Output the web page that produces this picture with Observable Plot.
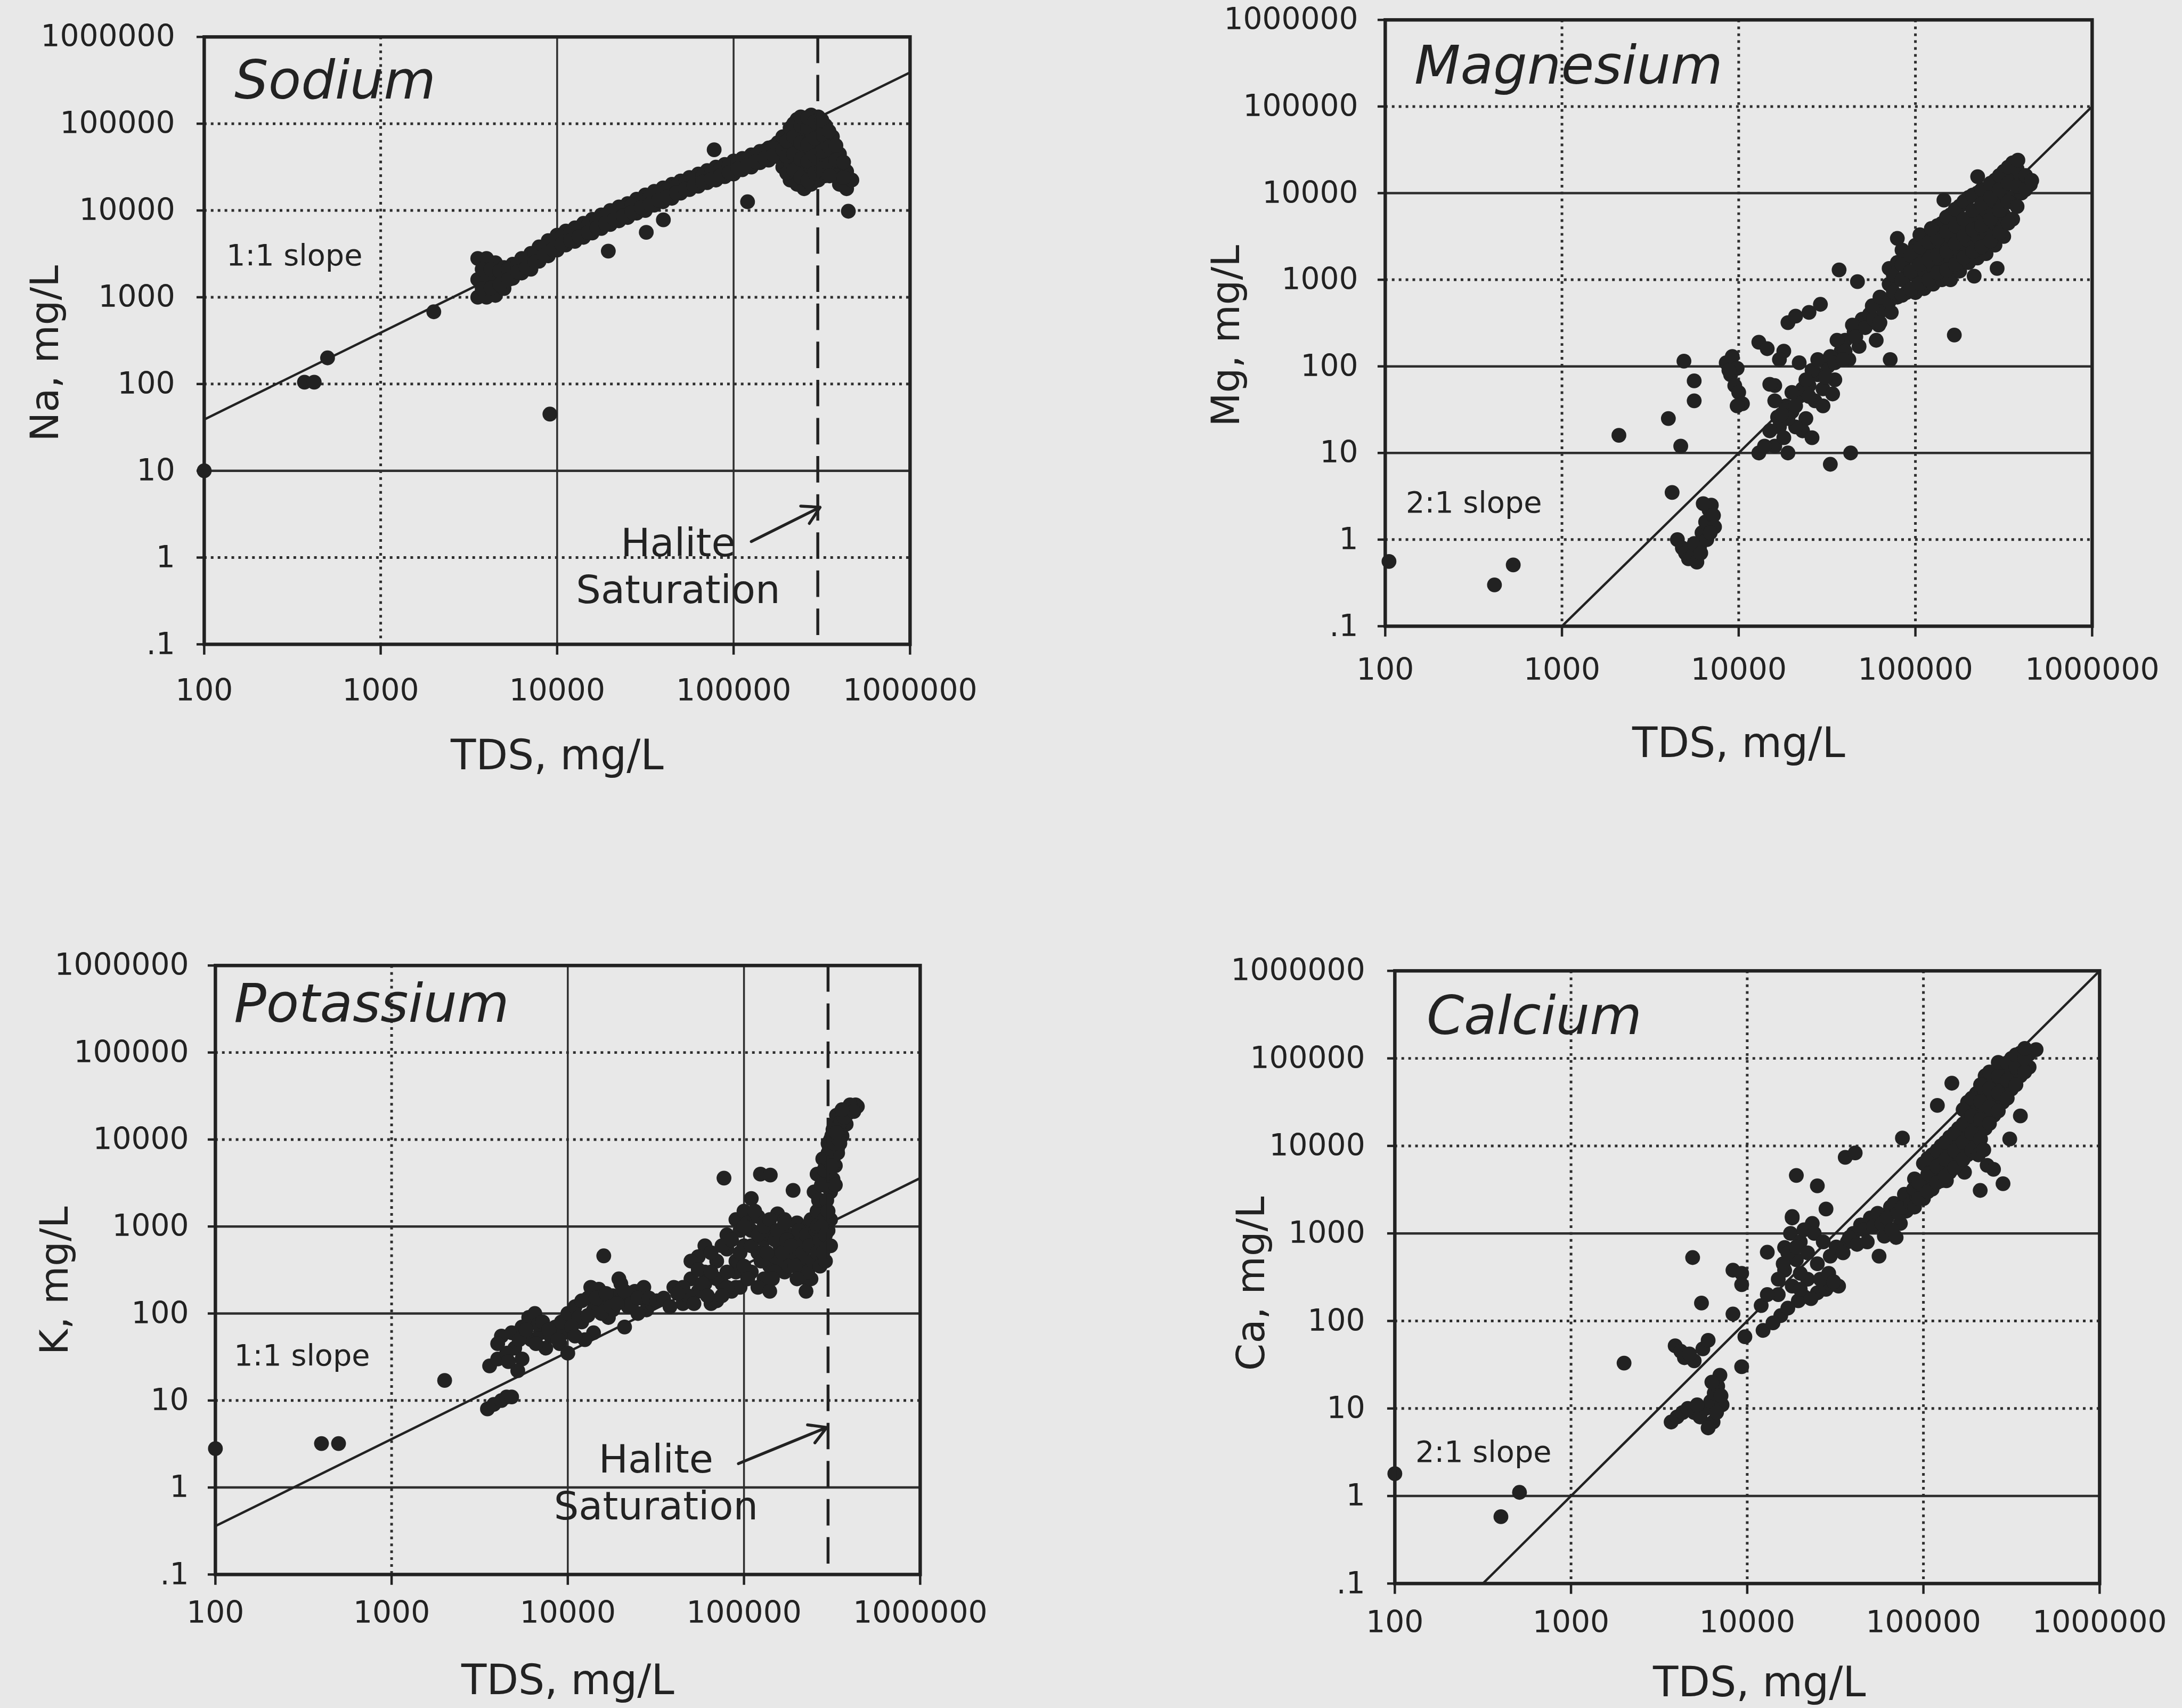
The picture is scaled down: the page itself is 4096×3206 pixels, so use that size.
<!DOCTYPE html>
<html><head><meta charset="utf-8">
<script src="https://cdn.jsdelivr.net/npm/d3@7"></script>
<script src="https://cdn.jsdelivr.net/npm/@observablehq/plot@0.6"></script>
<style>
html,body{margin:0;padding:0;background:#e8e8e8;overflow:hidden;}
#page{position:relative;width:4096px;height:3206px;overflow:hidden;background:#e8e8e8;}
#page svg{position:absolute;overflow:visible;}
</style></head><body><div id="page"></div>
<script>
// ---------- data ----------
const xTicks = [100, 1000, 10000, 100000, 1000000];
const xTickLabels = ["100", "1000", "10000", "100000", "1000000"];
const yTicks = [0.1, 1, 10, 100, 1000, 10000, 100000, 1000000];
const yTickLabels = [".1", "1", "10", "100", "1000", "10000", "100000", "1000000"];
const gridX = [1000, 10000, 100000];
const gridY = [1, 10, 100, 1000, 10000, 100000];
const haliteTDS = 300000;
const xTitle = "TDS, mg/L";

// [TDS mg/L, concentration mg/L]
const sodium = [
 [100,10],[370,105],[420,105],[500,200],[2000,680],[9100,45],
 [3550,2800],[3550,1600],[3550,1000],[3980,2800],[3980,1600],[3980,1000],
 [4470,2500],[4470,1600],[4470,1050],[5000,2200],[5000,1800],[5000,1260],
 [5600,2400],[5600,2000],[5600,1650],[6300,2800],[6300,2300],[6300,1900],
 [7100,3200],[7100,2600],[7100,2100],[7900,3800],[7900,3200],[7900,2600],
 [8900,4500],[8900,3700],[8900,3000],[10000,5200],[10000,4300],[10000,3500],
 [11200,5800],[11200,4800],[11200,4000],[12600,6300],[12600,5200],[12600,4400],
 [14100,7100],[14100,5900],[14100,4900],[15800,7900],[15800,6600],[15800,5500],
 [17800,8900],[17800,7400],[17800,6200],[20000,10000],[20000,8300],[20000,6900],
 [22400,11000],[22400,9100],[22400,7600],[25100,12000],[25100,10000],[25100,8300],
 [28200,13500],[28200,11200],[28200,9300],[31600,15100],[31600,12600],[31600,10000],
 [35500,16600],[35500,13800],[35500,11500],[39800,18200],[39800,15100],[39800,12600],
 [44700,20000],[44700,16600],[44700,13800],[50100,21900],[50100,18600],[50100,15800],
 [56200,24000],[56200,20400],[56200,17400],[63100,26300],[63100,22400],[63100,19000],
 [70800,28800],[70800,24500],[70800,20900],[79400,31600],[79400,26300],[79400,22400],
 [89100,33900],[89100,28800],[89100,24500],[100000,37200],[100000,31600],[100000,26300],
 [112000,39800],[112000,34700],[112000,29500],[126000,43700],[126000,38000],[126000,31600],
 [141000,47900],[141000,41700],[141000,35500],[158000,52500],[158000,45700],[158000,38000],
 [178000,60300],[178000,50100],[178000,41700],
 [3760,2100],[3760,1250],[4220,2100],[4220,1280],[4730,2000],[4730,1400],[5300,2100],[5300,1600],
 [5960,2400],[5960,1950],[6680,2750],[6680,2200],[7500,3200],[7500,2550],[8410,3800],[8410,3050],
 [9440,4400],[9440,3550],[10600,5000],[10600,4100],[11900,5500],[11900,4500],[13300,6100],[13300,5000],
 [15000,6800],[15000,5600],[16800,7600],[16800,6300],[18800,8600],[18800,7100],[21100,9500],[21100,7900],
 [23700,10500],[23700,8700],[26600,11600],[26600,9600],[29900,13000],[29900,10800],[33500,14400],[33500,11800],
 [37600,15800],[37600,13100],[42200,17300],[42200,14400],[47300,19000],[47300,16000],[53100,20800],[53100,17700],
 [59600,22800],[59600,19400],[66800,25000],[66800,21300],[75000,27400],[75000,23000],[84100,29900],[84100,25200],
 [94400,32700],[94400,27300],[106000,35800],[106000,30200],[119000,39000],[119000,33000],[133000,42800],[133000,36500],
 [150000,47000],[150000,40000],[168000,52000],[168000,43500],
 [190000,31600],[190000,50100],[190000,70800],
 [209000,22400],[209000,35500],[209000,56200],[209000,89100],
 [229000,20000],[229000,31600],[229000,50100],[229000,79400],[229000,112000],
 [251000,17800],[251000,28200],[251000,44700],[251000,70800],[251000,112000],
 [275000,20000],[275000,31600],[275000,50100],[275000,79400],[275000,126000],
 [302000,22400],[302000,35500],[302000,56200],[302000,89100],[302000,120000],
 [331000,25100],[331000,39800],[331000,63100],[331000,95500],
 [363000,28200],[363000,44700],[363000,70800],
 [398000,20000],[398000,31600],[398000,44700],
 [437000,17800],[437000,28200],[468000,22400],[447000,9800],
 [200000,27000],[200000,42000],[200000,63000],[219000,29000],[219000,45000],[219000,71000],[219000,100000],
 [240000,24000],[240000,39000],[240000,60000],[240000,95000],[240000,120000],[263000,22000],[263000,37000],
 [263000,58000],[263000,90000],[263000,118000],[288000,27000],[288000,43000],[288000,68000],[288000,105000],
 [316000,30000],[316000,48000],[316000,75000],[316000,110000],[347000,34000],[347000,54000],[347000,82000],
 [380000,25000],[380000,38000],[380000,56000],[420000,24000],[420000,36000],[350000,25000],
 [77600,50100],[120000,12600],[19500,3400],[32000,5600],[40000,7800]
];

const magnesium = [
 [105,0.56],[415,0.3],[530,0.51],[2100,16],[4000,25],[4700,12],[4200,3.5],[4900,115],[5600,68],[5600,40],
 [4500,1.0],[4800,0.8],[5000,0.7],[5200,0.6],[5500,0.65],[5800,0.55],[6000,0.8],[6200,1.2],[6500,1.6],
 [6800,2.2],[7000,2.5],[7200,1.9],[6300,2.6],[5600,0.9],[6100,0.7],[6600,1.0],[7300,1.4],[6900,1.2],
 [8500,110],[9000,80],[9500,60],[10000,50],[10500,37],[9200,130],[9800,95],[8800,90],[9800,35],
 [13000,190],[16000,60],[18000,150],[19000,320],[21000,380],[25000,420],[29000,520],[16600,26],
 [13000,10],[16000,12],[19000,10],[20000,30],[22000,45],[24000,25],[25000,60],[27000,40],[28000,80],
 [30000,55],[32000,100],[35000,70],[38000,150],[40000,200],[45000,250],[50000,350],[55000,400],
 [23000,18],[26000,15],[21000,20],[30000,35],[42000,120],[48000,170],[17000,20],[18500,35],
 [14000,12],[15000,18],[22000,110],[14500,160],[15000,62],[17000,120],[34000,48],
 [19000,25],[21000,35],[23000,55],[25000,45],[26000,90],[28000,120],[31000,75],[33000,130],[35000,110],
 [36000,200],[40000,150],[44000,300],[46000,220],[52000,280],[58000,350],[60000,200],[66000,450],
 [24000,70],[20000,50],[18000,15],[17500,28],[16000,40],
 [33000,7.4],[43000,10],[39000,120],[37000,1300],[47000,950],[72000,120],[62000,300],[57000,500],[73000,420],
 [63000,320],[63000,630],[71000,560],[71000,890],[71000,1350],[79000,630],[79000,1000],[79000,1580],
 [89000,710],[89000,1120],[89000,1780],[100000,710],[100000,1120],[100000,1780],[100000,2500],
 [112000,790],[112000,1260],[112000,2000],[112000,3160],[126000,890],[126000,1410],[126000,2240],[126000,3550],
 [141000,1000],[141000,1580],[141000,2510],[141000,4470],[158000,1000],[158000,1780],[158000,3160],[158000,5620],
 [178000,1260],[178000,2240],[178000,3980],[178000,7080],[200000,1580],[200000,2820],[200000,5010],[200000,8910],
 [224000,1780],[224000,3160],[224000,5620],[224000,10000],[251000,2000],[251000,3550],[251000,6310],[251000,11200],
 [282000,2510],[282000,4470],[282000,7940],[282000,14100],[316000,3160],[316000,5620],[316000,10000],[316000,17800],
 [355000,5010],[355000,8910],[355000,15800],[355000,22400],[398000,10000],[398000,15800],[447000,12600],
 [75000,720],[75000,1130],[84000,660],[84000,1000],[84000,1500],[84000,2200],[94000,780],[94000,1250],[94000,1900],
 [106000,900],[106000,1500],[106000,2400],[106000,3300],[119000,1000],[119000,1700],[119000,2700],
 [133000,1200],[133000,1900],[133000,3000],[133000,4200],[150000,1300],[150000,2100],[150000,3600],[150000,5300],
 [168000,1500],[168000,2600],[168000,4200],[168000,6500],[188000,1800],[188000,3200],[188000,5000],[188000,8000],
 [211000,2100],[211000,3800],[211000,6300],[211000,9500],[237000,2400],[237000,4200],[237000,7500],[237000,11000],
 [266000,2800],[266000,5000],[266000,8900],[266000,13000],[299000,3500],[299000,6300],[299000,11000],[299000,16000],
 [335000,4500],[335000,7900],[335000,13000],[335000,20000],[376000,7000],[376000,12000],[376000,19000],
 [420000,11000],[420000,16000],
 [79000,3000],[123000,3900],[145000,8300],[225000,15500],[166000,230],[215000,1100],[290000,1350],
 [380000,24000],[455000,14000]
];

const potassium = [
 [100,2.8],[400,3.2],[500,3.2],[2000,17],
 [3500,8],[3800,9],[4200,10],[4500,11],[4800,11],
 [3600,25],[4000,30],[4200,55],[4800,60],[5000,40],[5500,70],[6000,90],[6200,50],[7000,60],[7500,40],
 [8000,55],[9000,45],[10000,35],[5500,30],[6500,100],[4500,35],[6800,75],[5200,22],[8500,70],[9500,60],
 [4000,45],[4600,28],[5300,50],[5800,65],[6600,45],[7200,80],[7800,65],[8800,50],[9200,80],
 [16000,460],
 [10000,100],[11000,120],[12000,80],[13000,150],[14000,110],[15000,190],[16000,130],[17000,90],[18000,160],
 [20000,140],[22000,120],[24000,180],[26000,150],[28000,110],[30000,130],[14000,60],[12500,50],[20000,220],
 [21000,70],[25000,100],[19500,250],[11500,90],[13500,200],[18000,110],[23000,160],[27000,200],
 [10500,70],[11000,55],[12000,140],[13000,95],[14500,150],[15500,100],[16500,170],[17500,120],[19000,130],
 [21000,180],[23000,130],[25000,150],[29000,150],[32000,140],
 [35000,150],[40000,200],[45000,130],[50000,250],[55000,180],[60000,300],[65000,130],[70000,400],[75000,220],
 [80000,550],[90000,300],[60000,600],[55000,450],[38000,120],[48000,160],[70000,140],[85000,180],[95000,200],
 [77000,3600],[124000,4000],[141000,3900],[110000,2100],[155000,1400],[190000,2600],[170000,1200],
 [218000,260],[225000,180],
 [80000,800],[90000,1200],[100000,1500],[100000,600],[110000,900],[120000,500],[130000,700],[140000,350],
 [150000,450],[160000,600],[170000,300],[180000,800],[200000,500],[220000,400],[240000,250],[250000,600],
 [200000,1100],[230000,1000],[260000,800],[280000,700],[90000,400],[110000,300],[130000,250],[95000,900],
 [105000,1100],[120000,1300],[140000,800],[160000,400],[190000,450],[210000,700],[150000,300],[180000,350],
 [230000,300],[250000,400],
 [50000,400],[55000,320],[60000,220],[65000,500],[70000,250],[75000,600],[80000,300],[85000,700],[90000,200],
 [95000,500],[100000,350],[100000,1000],[105000,250],[110000,600],[115000,1500],[120000,800],[125000,400],
 [130000,1000],[135000,500],[140000,1200],[145000,250],[150000,700],[155000,900],[165000,500],[170000,1100],
 [175000,700],[185000,600],[195000,350],[205000,900],[215000,500],[225000,800],[235000,600],[245000,400],
 [255000,900],[265000,1200],[275000,900],[240000,1200],[200000,250],[120000,200],[140000,180],[80000,200],
 [75000,160],[65000,300],[58000,220],[45000,200],[42000,170],[52000,130],[62000,160],
 [260000,1000],[270000,2000],[280000,3000],[290000,5000],[300000,7000],[310000,10000],[320000,13000],
 [340000,17000],[360000,20000],[380000,15000],[360000,11000],[340000,8000],[320000,6000],[300000,4000],
 [280000,1500],[270000,700],[260000,500],[260000,1500],[250000,2500],[260000,4000],[280000,6000],
 [300000,9000],[320000,12000],[390000,20000],[410000,22000],[430000,25000],[440000,24000],[310000,2500],
 [320000,3500],[330000,5000],[340000,7000],[350000,9000],[350000,12000],[300000,900],[310000,1200],
 [270000,350],[290000,400],
 [265000,2000],[275000,3000],[285000,4500],[295000,6000],[305000,8000],[315000,11000],[325000,15000],
 [335000,19000],[345000,14000],[355000,16000],[325000,9000],[315000,5000],[305000,3000],[295000,2000],
 [285000,1200],[275000,1000],[290000,800],[345000,10000],[335000,12000],[370000,18000],[400000,25000],
 [420000,21000],[330000,3000],[300000,1500],[310000,600],[280000,500],[360000,22000]
];

const calcium = [
 [100,1.8],[400,0.58],[510,1.1],[2000,33],[4900,530],[5500,160],
 [3900,52],[4400,38],[5600,48],[4200,45],[5000,35],[6000,60],[4700,42],
 [3700,7],[4000,8],[4300,9],[4600,10],[5000,9],[5400,8],[5800,10],[6200,12],[6500,15],[6800,18],
 [7000,24],[7200,11],[6400,7],[6000,6],[6700,9],[7100,14],[6300,20],[5200,11],
 [8300,380],[9300,350],[9300,260],[8300,120],[9700,66],[9300,30],[13000,610],
 [12300,78],[15500,115],[19500,170],[25000,210],[33000,250],[18000,250],[16300,380],[16300,690],
 [17600,1000],[23400,1300],[14000,95],[17000,140],[21000,190],[28000,230],[30000,260],[22000,300],
 [19000,500],[20000,800],[21000,1100],[15000,200],[18000,1500],
 [12000,150],[13000,200],[15000,300],[16000,450],[17000,600],[19000,700],[20000,350],[22000,600],
 [24000,1000],[25000,450],[26000,300],[27000,800],[29000,350],[31000,280],[23000,180],[20000,230],
 [29600,550],[19000,4600],[25000,3500],[18000,1560],[28000,1900],[36000,7400],[41000,8300],
 [37000,800],[44000,1250],[56000,550],[60000,930],[74000,1300],[83000,2600],[89000,4200],[107000,6300],
 [135000,8700],[163000,13800],[135000,4000],[171000,5000],[205000,27000],[240000,36000],[295000,78000],
 [355000,115000],[40000,1000],[50000,1500],[65000,2000],[70000,900],[80000,1800],[95000,3000],
 [32000,700],[35000,600],[38000,900],[42000,750],[46000,1100],[48000,800],[52000,1200],[55000,1700],
 [58000,1300],[62000,1500],[66000,1100],[68000,2200],[72000,1700],[76000,2000],[78000,2800],[85000,2200],
 [88000,3200],[92000,2600],[98000,3600],
 [89000,2000],[89000,3200],[100000,2500],[100000,4000],[100000,6300],[112000,3200],[112000,5000],[112000,7900],
 [126000,4000],[126000,6300],[126000,10000],[141000,5000],[141000,7900],[141000,12600],
 [158000,6300],[158000,10000],[158000,15800],[178000,7900],[178000,12600],[178000,20000],[178000,31600],
 [200000,10000],[200000,15800],[200000,25100],[200000,39800],[224000,15800],[224000,25100],[224000,39800],[224000,63100],
 [251000,22400],[251000,35500],[251000,56200],[282000,31600],[282000,50100],[282000,79400],
 [316000,44700],[316000,70800],[316000,100000],[355000,63100],[355000,89100],[355000,112000],
 [398000,79400],[398000,112000],[436000,126000],
 [94000,2500],[94000,3800],[106000,3000],[106000,4800],[106000,7200],[119000,3800],[119000,5800],[119000,8800],
 [133000,4500],[133000,7000],[133000,11000],[150000,5600],[150000,8800],[150000,14000],
 [168000,7000],[168000,11000],[168000,17800],[168000,26000],[188000,8900],[188000,14000],[188000,22000],[188000,35000],
 [211000,12000],[211000,20000],[211000,32000],[211000,50000],[237000,18000],[237000,28000],[237000,45000],[237000,70000],
 [266000,25000],[266000,40000],[266000,63000],[266000,90000],[299000,35000],[299000,56000],[299000,89000],
 [335000,50000],[335000,79000],[335000,110000],[376000,70000],[376000,100000],[376000,130000],
 [76000,12300],[120000,29000],[145000,52000],[309000,12000],[283000,3700],[210000,3100],[355000,22000],
 [205000,7900],[230000,6000],[250000,5400],[220000,9000]
];

// reference slope lines (two end points each)
const sodiumLine = [[100, 39], [1000000, 390000]];
const magnesiumLine = [[1000, 0.1], [1000000, 100000]];
const potassiumLine = [[100, 0.36], [1000000, 3600]];
const calciumLine = [[316, 0.1], [1000000, 1000000]];

// halite arrows (data coordinates)
const sodiumArrow = {x1: 126000, y1: 1.53, x2: 309000, y2: 3.8};
const potassiumArrow = {x1: 93000, y1: 1.88, x2: 295000, y2: 4.9};

// ---------- layout / style ----------
const S = 0.994;
const INK = "#222222";
const GRID = "#2e2e2e";
const FONT = "DejaVu Sans, Liberation Sans, sans-serif";

const panels = [
 {title:"Sodium", yTitle:"Na, mg/L", data:sodium, line:sodiumLine, slope:"1:1 slope", arrow:sodiumArrow,
  L:385, R:1718, T:69, B:1216, titleDx:57, titleDy:116, slopeDx:42, slopeDy:431, haliteDx:895, haliteDy:[981,1069],
  yLabelGap:55, xLabelTop:66, xTitleDx:0, xTitleDy:236, yTitleDx:-300, yTitleDy:24, solidY:[10], solidX:[10000,100000]},
 {title:"Magnesium", yTitle:"Mg, mg/L", data:magnesium, line:magnesiumLine, slope:"2:1 slope",
  L:2616, R:3951, T:37, B:1182, titleDx:55, titleDy:120, slopeDx:39, slopeDy:930,
  yLabelGap:51, xLabelTop:61, xTitleDx:0, xTitleDy:247, yTitleDx:-300, yTitleDy:24, solidY:[10000,100,10], solidX:[]},
 {title:"Potassium", yTitle:"K, mg/L", data:potassium, line:potassiumLine, slope:"1:1 slope", arrow:potassiumArrow,
  L:406, R:1737, T:1823, B:2973, titleDx:35, titleDy:106, slopeDx:35, slopeDy:755, haliteDx:832, haliteDy:[957,1046],
  yLabelGap:50, xLabelTop:51, xTitleDx:0, xTitleDy:226, yTitleDx:-303, yTitleDy:20, solidY:[1000,100,1], solidX:[10000,100000]},
 {title:"Calcium", yTitle:"Ca, mg/L", data:calcium, line:calciumLine, slope:"2:1 slope",
  L:2634, R:3965, T:1833, B:2990, titleDx:60, titleDy:119, slopeDx:39, slopeDy:927,
  yLabelGap:56, xLabelTop:52, xTitleDx:23, xTitleDy:213, yTitleDx:-271, yTitleDy:12, solidY:[1000,1], solidX:[]}
];

const xLabelOf = new Map(xTicks.map((v, i) => [v, xTickLabels[i]]));
const yLabelOf = new Map(yTicks.map((v, i) => [v, yTickLabels[i]]));
const page = document.getElementById("page");

for (const c of panels) {
  const mL = 360, mR = 150, mT = 30, mB = 250;
  const pts = c.data.map(([x, y]) => ({x, y}));
  const ln = c.line.map(([x, y]) => ({x, y}));
  const dotted = {stroke: GRID, strokeWidth: 5 * S, strokeDasharray: `${5 * S},${8 * S}`};
  const marks = [
    Plot.ruleY(gridY.filter(v => !c.solidY.includes(v)), dotted),
    Plot.ruleY(gridY.filter(v => c.solidY.includes(v)), {stroke: GRID, strokeWidth: 4.5 * S}),
    Plot.ruleX(gridX.filter(v => !c.solidX.includes(v)), dotted),
    Plot.ruleX(gridX.filter(v => c.solidX.includes(v)), {stroke: GRID, strokeWidth: 3.5 * S}),
    Plot.line(ln, {x: "x", y: "y", stroke: INK, strokeWidth: 4.5 * S}),
    Plot.dot(pts, {x: "x", y: "y", r: 14 * S, fill: INK, stroke: "none"}),
    Plot.frame({stroke: INK, strokeWidth: 6.5 * S}),
    Plot.axisX(xTicks, {anchor: "bottom", tickSize: 20 * S, tickPadding: (c.xLabelTop - 20) * S, tickFormat: d => xLabelOf.get(d),
      fontSize: 57 * S, color: INK, strokeWidth: 4.5 * S, label: null}),
    Plot.axisY(yTicks, {anchor: "left", tickSize: 14 * S, tickPadding: (c.yLabelGap - 14) * S, tickFormat: d => yLabelOf.get(d),
      fontSize: 57 * S, color: INK, strokeWidth: 4.5 * S, label: null}),
    Plot.text([c.title], {text: d => d, frameAnchor: "top-left", dx: c.titleDx * S, dy: c.titleDy * S, textAnchor: "start",
      lineAnchor: "bottom", fontSize: 101 * S, fontStyle: "italic", fill: INK}),
    Plot.text([c.slope], {text: d => d, frameAnchor: "top-left", dx: c.slopeDx * S, dy: c.slopeDy * S, textAnchor: "start",
      lineAnchor: "bottom", fontSize: 56 * S, fill: INK}),
    Plot.text([xTitle], {text: d => d, frameAnchor: "bottom", dx: c.xTitleDx * S, dy: c.xTitleDy * S, textAnchor: "middle",
      lineAnchor: "bottom", fontSize: 78 * S, fill: INK}),
    Plot.text([c.yTitle], {text: d => d, frameAnchor: "left", rotate: -90, dx: c.yTitleDx * S, dy: c.yTitleDy * S,
      textAnchor: "middle", lineAnchor: "middle", fontSize: 74 * S, fill: INK})
  ];
  if (c.arrow) {
    marks.push(
      Plot.ruleX([haliteTDS], {stroke: INK, strokeWidth: 5.5 * S, strokeDasharray: `${50 * S},${22 * S}`}),
      Plot.arrow([c.arrow], {x1: "x1", y1: "y1", x2: "x2", y2: "y2", stroke: INK, strokeWidth: 5.5 * S, headLength: 10}),
      Plot.text(["Halite"], {text: d => d, frameAnchor: "top-left", dx: c.haliteDx * S, dy: c.haliteDy[0] * S,
        textAnchor: "middle", lineAnchor: "bottom", fontSize: 74 * S, fill: INK}),
      Plot.text(["Saturation"], {text: d => d, frameAnchor: "top-left", dx: c.haliteDx * S, dy: c.haliteDy[1] * S,
        textAnchor: "middle", lineAnchor: "bottom", fontSize: 74 * S, fill: INK})
    );
  }
  const chart = Plot.plot({
    width: (c.R - c.L + mL + mR) * S,
    height: (c.B - c.T + mT + mB) * S,
    marginLeft: mL * S, marginRight: mR * S, marginTop: mT * S, marginBottom: mB * S,
    x: {type: "log", domain: [100, 1000000]},
    y: {type: "log", domain: [0.1, 1000000]},
    style: {background: "transparent", fontFamily: FONT, color: INK, overflow: "visible"},
    marks
  });
  chart.style.left = ((c.L - mL) * S) + "px";
  chart.style.top = ((c.T - mT) * S) + "px";
  page.appendChild(chart);
}
</script>
</body></html>
